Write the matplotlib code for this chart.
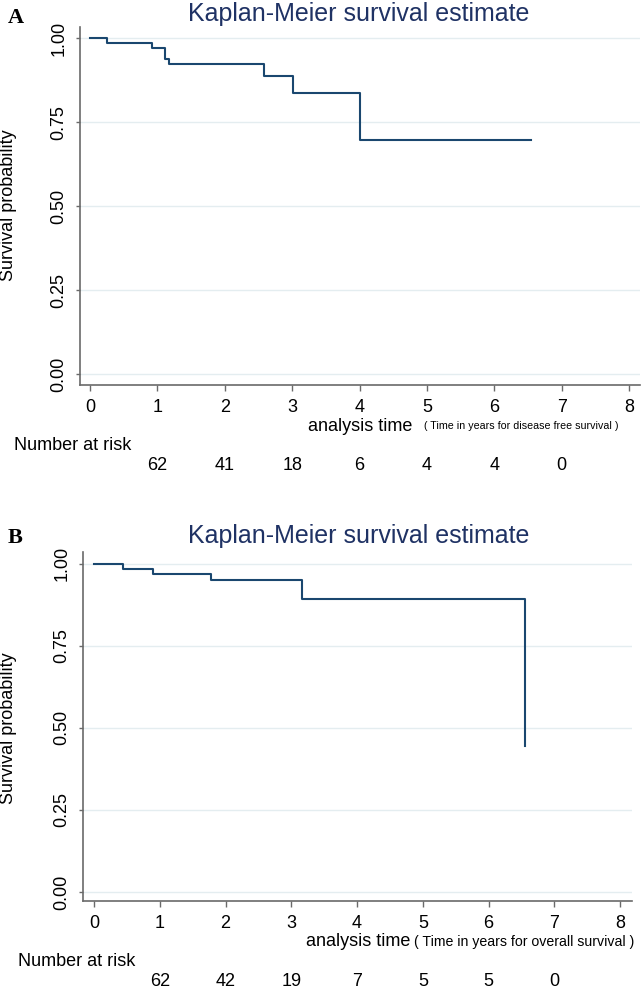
import matplotlib
matplotlib.use("Agg")
import matplotlib.pyplot as plt
import matplotlib.transforms as mtransforms

plt.rcParams['font.family'] = ['Liberation Sans', 'DejaVu Sans']

# panel A: disease free survival
time_a = [0, 0.25, 0.925, 1.113, 1.177, 2.586, 3.007, 4.006, 6.54]
surv_a = [1.0, 0.987, 0.971, 0.938, 0.924, 0.887, 0.838, 0.697, 0.697]
risk_a = [62, 41, 18, 6, 4, 4, 0]

# panel B: overall survival
time_b = [0, 0.446, 0.90, 1.774, 3.158, 6.546]
surv_b = [1.0, 0.985, 0.970, 0.949, 0.893, 0.445]
risk_b = [62, 42, 19, 7, 5, 5, 0]

risk_times = [1, 2, 3, 4, 5, 6, 7]
xticks = [0, 1, 2, 3, 4, 5, 6, 7, 8]
yticks = [0.0, 0.25, 0.5, 0.75, 1.0]
ytick_labels = ['0.00', '0.25', '0.50', '0.75', '1.00']

W, H = 641, 989
line_col = '#1a476f'
title_col = '#1f3264'
grid_col = '#e4edf0'
axis_col = '#6a6a6a'

fig = plt.figure(figsize=(W / 100, H / 100), dpi=100)


def fy(py):
    return 1 - py / H


def panel(box, xlim, ylim, times, surv, risk, letter, letter_y, title_y,
          sub, sub_x, sub_size, at_x, at_y, lab_y, nar_x, nar_y, num_y, ylab_y):
    ax = fig.add_axes(box)
    ax.step(times, surv, where='post', color=line_col, lw=1.5)
    ax.set_xlim(*xlim)
    ax.set_ylim(*ylim)
    ax.set_xticks(xticks)
    ax.set_yticks(yticks)
    ax.set_yticklabels(ytick_labels, rotation=90, va='center')
    ax.grid(axis='y', color=grid_col, lw=1.0)
    ax.set_axisbelow(True)
    for s in ['top', 'right']:
        ax.spines[s].set_visible(False)
    for s in ['left', 'bottom']:
        ax.spines[s].set_color(axis_col)
        ax.spines[s].set_linewidth(1.2)
    ax.tick_params(axis='x', length=4.5, width=1, color=axis_col, labelsize=13, pad=5.5)
    ax.tick_params(axis='y', length=3, width=1, color=axis_col, labelsize=13, pad=6)

    fig.text(8 / W, fy(letter_y), letter, family='Liberation Serif', weight='bold',
             fontsize=16, va='baseline')
    fig.text(359 / W, fy(title_y), 'Kaplan-Meier survival estimate', color=title_col,
             fontsize=18, ha='center', va='baseline')
    fig.text(8.5 / W, fy(ylab_y), 'Survival probability', rotation=90,
             fontsize=13, ha='center', va='center')
    fig.text(at_x / W, fy(lab_y), 'analysis time', fontsize=13, va='center')
    fig.text(sub_x / W, fy(lab_y), sub, fontsize=sub_size, va='center')
    fig.text(nar_x / W, fy(nar_y), 'Number at risk', fontsize=13, va='center')
    trans = mtransforms.blended_transform_factory(ax.transData, fig.transFigure)
    for t, n in zip(risk_times, risk):
        ax.text(t, fy(num_y), str(n), transform=trans, fontsize=13,
                ha='center', va='center')
    return ax


panel([80 / W, fy(385), 560 / W, (385 - 27) / H], (-0.148, 8.16), (-0.0328, 1.0337),
      time_a, surv_a, risk_a, 'A', 23, 21,
      '( Time in years for disease free survival )', 424.5, 7.7,
      308, 426, 426, 14, 446, 466, 205)

panel([83 / W, fy(901), 549 / W, (901 - 551.7) / H], (-0.167, 8.18), (-0.0274, 1.0366),
      time_b, surv_b, risk_b, 'B', 543, 543,
      '( Time in years for overall survival )', 414, 10.2,
      306, 942, 942, 18, 962, 982, 728)

fig.savefig('out.png', dpi=100)
